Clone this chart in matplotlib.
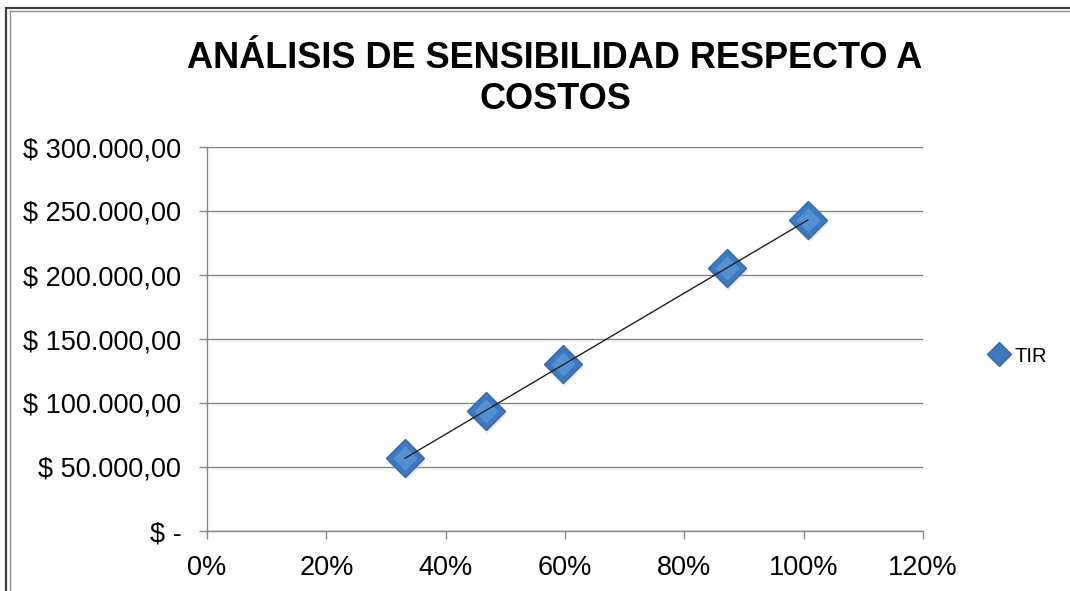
import numpy as np
import matplotlib
matplotlib.use("Agg")
import matplotlib.pyplot as plt
from matplotlib.patches import Rectangle
from matplotlib.lines import Line2D
from matplotlib.transforms import ScaledTranslation

# Sensitivity data: cost variation vs. resulting value
cost_pct = [0.332, 0.468, 0.597, 0.872, 1.007]
tir_values = [57000, 93800, 130500, 205500, 243000]

x_ticks = [0.0, 0.2, 0.4, 0.6, 0.8, 1.0, 1.2]
x_tick_labels = ["0%", "20%", "40%", "60%", "80%", "100%", "120%"]
y_ticks = [0, 50000, 100000, 150000, 200000, 250000, 300000]
y_tick_labels = ["$ -", "$ 50.000,00", "$ 100.000,00", "$ 150.000,00",
                 "$ 200.000,00", "$ 250.000,00", "$ 300.000,00"]

title_text = "ANÁLISIS DE SENSIBILIDAD RESPECTO A\nCOSTOS"
series_name = "TIR"

plt.rcParams["font.family"] = ["Liberation Sans", "DejaVu Sans"]

W, H = 1070, 591
fig = plt.figure(figsize=(W / 100, H / 100), dpi=100)
fig.patch.set_facecolor("white")

def fx(px):
    return px / W

def fy(py):
    return 1 - py / H

# chart frame (double border on the left/top)
fig.add_artist(Rectangle((fx(6), fy(H + 10)), fx(W + 20), fy(8) - fy(H + 10),
                         transform=fig.transFigure, fill=False,
                         edgecolor="#404040", linewidth=1.6))
fig.add_artist(Line2D([fx(10), fx(10)], [fy(11), 0], transform=fig.transFigure,
                      color="#909090", linewidth=1.0))
fig.add_artist(Line2D([fx(10), 1], [fy(11), fy(11)], transform=fig.transFigure,
                      color="#909090", linewidth=1.0))

ax = fig.add_axes([fx(207), fy(531), fx(923) - fx(207), fy(147) - fy(531)])
ax.set_xlim(0, 1.2)
ax.set_ylim(0, 300000)

ax.set_yticks(y_ticks)
ax.set_yticklabels(y_tick_labels)
ax.set_xticks(x_ticks)
ax.set_xticklabels(x_tick_labels)

grid_color = "#868686"
ax.yaxis.grid(True, color=grid_color, linewidth=1.0)
ax.set_axisbelow(True)
for side in ("top", "right"):
    ax.spines[side].set_visible(False)
for side in ("left", "bottom"):
    ax.spines[side].set_color(grid_color)
    ax.spines[side].set_linewidth(1.0)

ax.tick_params(axis="both", colors=grid_color, length=6, width=1.0,
               labelsize=19.5, labelcolor="black")
ax.tick_params(axis="y", pad=12.5)
ax.tick_params(axis="x", pad=11.5)

# linear trend line over the data range
coef = np.polyfit(cost_pct, tir_values, 1)
xs = np.array([min(cost_pct), max(cost_pct)])

# markers: soft shadow, body, highlight
shadow = ax.transData + ScaledTranslation(1 / 100, -3 / 100, fig.dpi_scale_trans)
ax.plot(cost_pct, tir_values, linestyle="none", marker="D", markersize=19,
        markerfacecolor="#b0b0b0", markeredgecolor="none", alpha=0.3,
        transform=shadow, zorder=3)
ax.plot(cost_pct, tir_values, linestyle="none", marker="D", markersize=19.5,
        markerfacecolor="#3d78c0", markeredgecolor="#3566a6",
        markeredgewidth=1.0, zorder=3)
ax.plot(cost_pct, tir_values, linestyle="none", marker="D", markersize=12,
        markerfacecolor="#5590d2", markeredgecolor="none", zorder=3)

# trend line drawn above the markers
ax.plot(xs, np.polyval(coef, xs), color="#202020", linewidth=1.0, zorder=5)

fig.text(fx(555), fy(79), title_text, ha="center", va="center",
         fontsize=26, fontweight="bold", linespacing=1.25)

handle = Line2D([], [], linestyle="none", marker="D", markersize=12,
                markerfacecolor="#3d78c0", markeredgecolor="#3566a6")
fig.legend([handle], [series_name], loc="center left",
           bbox_to_anchor=(fx(991), fy(356)), frameon=False,
           fontsize=14.5, handlelength=0.8, handletextpad=0.35,
           borderaxespad=0, borderpad=0)

fig.savefig("out.png", dpi=100, facecolor="white")
